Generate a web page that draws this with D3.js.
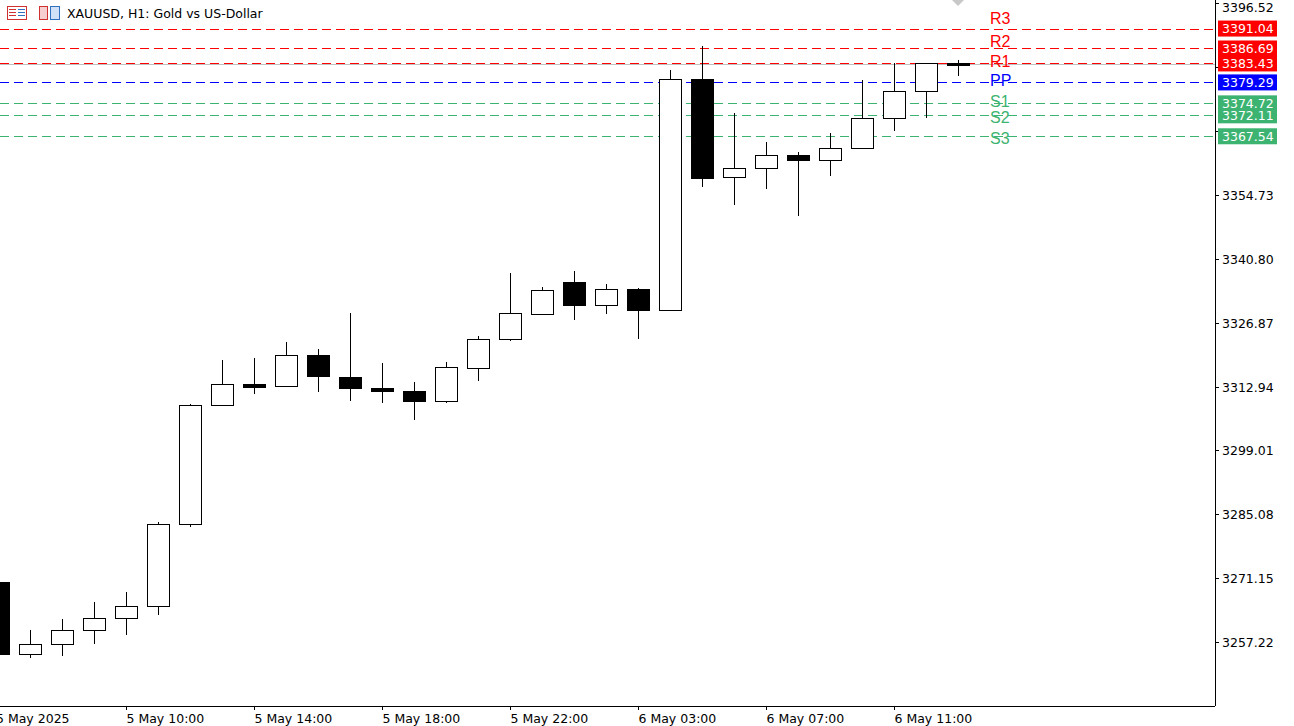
<!DOCTYPE html>
<html><head><meta charset="utf-8">
<script src="https://cdn.jsdelivr.net/npm/d3@7"></script>
<style>body{margin:0;background:#fff}svg{display:block;font-family:Tahoma,"DejaVu Sans",sans-serif}</style>
</head><body><svg id="c" width="1294" height="726"></svg>
<script>
const opens  = [3270.27,3254.60,3256.77,3259.82,3262.43,3265.05,3282.90,3309.02,3313.59,3313.15,3319.90,3315.11,3312.72,3312.06,3309.89,3317.07,3323.38,3328.83,3335.79,3330.79,3334.27,3329.70,3379.98,3358.65,3360.61,3363.44,3362.35,3364.96,3371.49,3377.37,3383.62];
const closes = [3254.60,3256.77,3259.82,3262.43,3265.05,3282.90,3309.02,3313.59,3312.94,3319.90,3315.33,3312.72,3312.06,3309.89,3317.29,3323.38,3329.04,3334.05,3330.79,3334.27,3329.70,3379.98,3358.43,3360.61,3363.44,3362.35,3364.96,3371.49,3377.37,3383.46,3383.03];
const highs  = [3270.27,3259.82,3262.22,3265.92,3268.09,3283.33,3309.23,3318.81,3319.25,3322.73,3321.21,3329.04,3318.16,3314.02,3318.38,3324.04,3337.71,3334.70,3338.19,3335.36,3334.49,3381.94,3387.16,3372.58,3366.27,3364.09,3368.23,3379.76,3383.46,3383.46,3384.12];
const lows   = [3254.60,3253.73,3254.16,3256.77,3258.73,3263.09,3282.24,3308.80,3311.41,3313.15,3311.85,3309.89,3309.45,3305.75,3309.45,3314.24,3322.95,3328.61,3327.52,3328.83,3323.38,3329.70,3356.47,3352.55,3356.04,3350.16,3358.87,3364.96,3368.66,3371.49,3380.63];
const timeLabels = [[0,"5 May 2025"],[4,"5 May 10:00"],[8,"5 May 14:00"],[12,"5 May 18:00"],[16,"5 May 22:00"],[20,"6 May 03:00"],[24,"6 May 07:00"],[28,"6 May 11:00"]];
const priceTicks = [3396.52,3382.59,3368.66,3354.73,3340.80,3326.87,3312.94,3299.01,3285.08,3271.15,3257.22];
const pivotNames = ["R3","R2","R1","PP","S1","S2","S3"];
const pivotValues = [3391.04,3386.69,3383.43,3379.29,3374.72,3372.11,3367.54];
const pivotColors = ["#ff0000","#ff0000","#ff0000","#0000ff","#3cb371","#3cb371","#3cb371"];
const currentPrice = 3383.2;

const svg = d3.select("#c");
const AX=1215, AY=706;
const y = d3.scaleLinear().domain([3257.22,3354.73]).range([642,195]);
const x = d3.scaleLinear().domain([0,30]).range([-2,958]);
const bw = 22;

const g = svg.append("g").attr("shape-rendering","crispEdges");
g.append("line").attr("x1",0).attr("x2",AX).attr("y1",Math.round(y(currentPrice))+0.5).attr("y2",Math.round(y(currentPrice))+0.5).attr("stroke","#c0c0c0");

pivotValues.forEach((v,i)=>{
  const yy=Math.round(y(v))+0.5;
  g.append("line").attr("x1",0).attr("x2",AX).attr("y1",yy).attr("y2",yy)
   .attr("stroke",pivotColors[i]).attr("stroke-dasharray","9,5");
});

d3.range(opens.length).forEach(i=>{
  const cx = Math.round(x(i))+0.5;
  const bull = closes[i]>=opens[i];
  g.append("line").attr("x1",cx).attr("x2",cx).attr("y1",Math.round(y(highs[i]))).attr("y2",Math.round(y(lows[i]))).attr("stroke","#000");
  const t = Math.round(y(Math.max(opens[i],closes[i]))), b = Math.round(y(Math.min(opens[i],closes[i])));
  g.append("rect").attr("x",cx-bw/2).attr("y",t+0.5).attr("width",bw).attr("height",Math.max(b-t,2))
   .attr("fill",bull?"#fff":"#000").attr("stroke","#000");
});

const labelDy = [-10,-7,-2,-2,-2,2,2];
pivotValues.forEach((v,i)=>{
  svg.append("text").attr("x",990).attr("y",y(v)+labelDy[i]).attr("dominant-baseline","central")
   .attr("font-size",16).attr("fill",pivotColors[i]).attr("font-family","Liberation Sans,Arial,sans-serif").text(pivotNames[i]);
});

svg.append("path").attr("d","M952,0 L964,0 L958,6 Z").attr("fill","#c8c8c8");

svg.append("line").attr("x1",AX+0.5).attr("x2",AX+0.5).attr("y1",0).attr("y2",AY).attr("stroke","#000").attr("shape-rendering","crispEdges");
svg.append("line").attr("x1",0).attr("x2",AX).attr("y1",AY+0.5).attr("y2",AY+0.5).attr("stroke","#000").attr("shape-rendering","crispEdges");

priceTicks.forEach(p=>{
  const yy=Math.round(y(p))+0.5;
  svg.append("line").attr("x1",AX).attr("x2",AX+4).attr("y1",yy).attr("y2",yy).attr("stroke","#000").attr("shape-rendering","crispEdges");
  const hidden = pivotValues.some(v=>Math.abs(y(v)-yy)<10);
  if(!hidden) svg.append("text").attr("x",AX+7).attr("y",Math.max(yy,7)).attr("dominant-baseline","central").attr("font-size",12.5).attr("fill","#000").text(p.toFixed(2));
});

pivotValues.forEach((v,i)=>{
  svg.append("rect").attr("x",AX+3).attr("y",y(v)-8).attr("width",59).attr("height",16).attr("fill",pivotColors[i]);
});
pivotValues.forEach((v,i)=>{
  svg.append("text").attr("x",AX+7).attr("y",y(v)).attr("dominant-baseline","central").attr("font-size",12.5).attr("fill","#fff").text(v.toFixed(2));
});

timeLabels.forEach(([i,t])=>{
  const xx=Math.round(x(i))+0.5;
  svg.append("line").attr("x1",xx).attr("x2",xx).attr("y1",AY).attr("y2",AY+4).attr("stroke","#000").attr("shape-rendering","crispEdges");
  svg.append("text").attr("x",i===0?-4:xx).attr("y",718).attr("dominant-baseline","central").attr("font-size",12.5).attr("fill","#000").text(t);
});

const hd = svg.append("g").attr("shape-rendering","crispEdges");
hd.append("rect").attr("x",7.5).attr("y",6.5).attr("width",19).attr("height",13).attr("fill","#fff").attr("stroke","#d03030");
[9.5,12.5,15.5].forEach(yy=>{hd.append("line").attr("x1",9).attr("x2",16).attr("y1",yy).attr("y2",yy).attr("stroke","#d03030");hd.append("line").attr("x1",18).attr("x2",25).attr("y1",yy).attr("y2",yy).attr("stroke","#3070c0");});
hd.append("rect").attr("x",39.5).attr("y",6.5).attr("width",8).attr("height",13).attr("fill","#f6d0d0").attr("stroke","#d03030");
hd.append("rect").attr("x",50.5).attr("y",6.5).attr("width",9).attr("height",13).attr("fill","#d0e0f6").attr("stroke","#3070c0");
svg.append("text").attr("x",67).attr("y",13).attr("dominant-baseline","central").attr("font-size",12.5).attr("fill","#000").text("XAUUSD, H1:  Gold vs US-Dollar");
</script></body></html>
